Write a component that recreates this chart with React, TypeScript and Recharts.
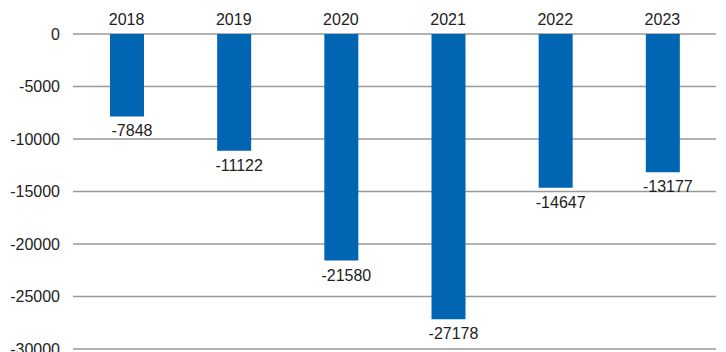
import React from "react";
import { BarChart, Bar, XAxis, YAxis, CartesianGrid, LabelList } from "recharts";

const years = ["2018", "2019", "2020", "2021", "2022", "2023"];
const values = [-7848, -11122, -21580, -27178, -14647, -13177];
const yTicks = [0, -5000, -10000, -15000, -20000, -25000, -30000];

const data = years.map((year, i) => ({ year, value: values[i] }));

const FONT = "'Liberation Sans', Arial, Helvetica, sans-serif";

const renderLabel = (props: any) => {
  const { x, y, width, height, value } = props;
  const bottom = Math.max(Number(y), Number(y) + Number(height));
  return (
    <text
      x={Number(x) + Number(width) / 2 + 5}
      y={bottom + 20}
      textAnchor="middle"
      fontSize={16}
      fontFamily={FONT}
      fill="#222"
    >
      {value}
    </text>
  );
};

export default function App() {
  return (
    <div style={{ position: "absolute", left: 0, top: 0, width: 726, height: 352, overflow: "hidden" }}>
      <BarChart
        width={726}
        height={372}
        data={data}
        margin={{ top: 0, right: 10, bottom: 23, left: 0 }}
        barSize={34}
      >
        <CartesianGrid horizontal vertical={false} stroke="#999" strokeWidth={1.5} />
        <XAxis
          dataKey="year"
          orientation="top"
          height={34}
          axisLine={false}
          tickLine={false}
          tickSize={0}
          tickMargin={9}
          tick={{ fontSize: 16, fill: "#222", fontFamily: FONT }}
        />
        <YAxis
          domain={[-30000, 0]}
          ticks={yTicks}
          width={73}
          axisLine={false}
          tickLine={false}
          tickSize={0}
          tickMargin={13}
          tick={{ fontSize: 16, fill: "#222", fontFamily: FONT }}
        />
        <Bar dataKey="value" fill="#0066b3" isAnimationActive={false}>
          <LabelList dataKey="value" content={renderLabel} />
        </Bar>
      </BarChart>
    </div>
  );
}
